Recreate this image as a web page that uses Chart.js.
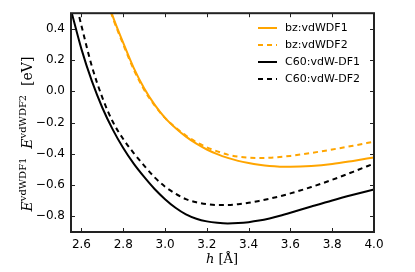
<!DOCTYPE html>
<html><head><meta charset="utf-8">
<script src="https://cdn.jsdelivr.net/npm/chart.js@4"></script>
<style>html,body{margin:0;padding:0;background:#fff}#w{width:415px;height:272px}</style>
</head><body><div id="w"><canvas id="c" width="415" height="272"></canvas></div>
<script>
const xsBlack = [2.55,2.60,2.65,2.70,2.75,2.80,2.85,2.90,2.95,3.00,3.05,3.10,3.15,3.20,3.25,3.30,3.35,3.40,3.45,3.50,3.55,3.60,3.70,3.80,3.90,4.00];
const c60DF1 = [0.52,0.27,0.065,-0.105,-0.245,-0.363,-0.463,-0.548,-0.625,-0.69,-0.745,-0.787,-0.815,-0.832,-0.841,-0.845,-0.843,-0.837,-0.827,-0.813,-0.796,-0.777,-0.737,-0.698,-0.662,-0.628];
const c60DF2 = [0.70,0.42,0.16,-0.04,-0.195,-0.305,-0.395,-0.475,-0.55,-0.61,-0.655,-0.69,-0.71,-0.722,-0.727,-0.727,-0.722,-0.713,-0.701,-0.687,-0.671,-0.653,-0.612,-0.566,-0.515,-0.462];
const xsOrange = [2.70,2.75,2.80,2.85,2.90,2.95,3.00,3.05,3.10,3.15,3.20,3.25,3.30,3.35,3.40,3.45,3.50,3.55,3.60,3.70,3.80,3.90,4.00];
const bzDF1 = [0.68,0.48,0.31,0.15,0.02,-0.085,-0.17,-0.235,-0.29,-0.335,-0.372,-0.402,-0.426,-0.445,-0.459,-0.47,-0.478,-0.482,-0.483,-0.478,-0.465,-0.445,-0.423];
const bzDF2 = [0.67,0.47,0.30,0.14,0.01,-0.09,-0.17,-0.232,-0.283,-0.325,-0.358,-0.384,-0.405,-0.418,-0.424,-0.426,-0.425,-0.42,-0.413,-0.394,-0.372,-0.348,-0.322];
const seriesNames = ['bz:vdWDF1','bz:vdWDF2','C60:vdW-DF1','C60:vdW-DF2'];
const xTicks = [2.6,2.8,3.0,3.2,3.4,3.6,3.8,4.0];
const yTicks = [-0.8,-0.6,-0.4,-0.2,0.0,0.2,0.4];

const pts = (xs, ys) => xs.map((x,i)=>({x, y: ys[i]}));
const ORANGE = '#FFA500';
const DASH = [5,4];

const ds = [
  {label: seriesNames[0], data: pts(xsOrange,bzDF1), borderColor: ORANGE, borderDash: []},
  {label: seriesNames[1], data: pts(xsOrange,bzDF2), borderColor: ORANGE, borderDash: DASH},
  {label: seriesNames[2], data: pts(xsBlack,c60DF1), borderColor: '#000', borderDash: []},
  {label: seriesNames[3], data: pts(xsBlack,c60DF2), borderColor: '#000', borderDash: DASH},
].map(d => Object.assign(d, {borderWidth: 2, pointRadius: 0, cubicInterpolationMode: 'monotone', fill: false}));

const fmt = v => { const s = Math.abs(v).toFixed(1); return (v < -1e-9 ? '\u2212' : '') + s; };

const deco = {
  id: 'deco',
  afterDatasetsDraw(chart) {
    const {ctx, chartArea: a, scales: {x, y}} = chart;
    ctx.save();
    ctx.strokeStyle = '#222';
    ctx.lineWidth = 1;
    const tl = 4;
    ctx.beginPath();
    xTicks.forEach(v => { const px = Math.round(x.getPixelForValue(v)) + 0.5;
      ctx.moveTo(px, a.bottom); ctx.lineTo(px, a.bottom - tl);
      ctx.moveTo(px, a.top); ctx.lineTo(px, a.top + tl); });
    yTicks.forEach(v => { const py = Math.round(y.getPixelForValue(v)) + 0.5;
      ctx.moveTo(a.left, py); ctx.lineTo(a.left + tl, py);
      ctx.moveTo(a.right, py); ctx.lineTo(a.right - tl, py); });
    ctx.stroke();
    ctx.lineWidth = 2;
    ctx.strokeStyle = '#222';
    ctx.strokeRect(a.left, a.top, a.right - a.left, a.bottom - a.top);

    // legend
    ctx.font = '11px "DejaVu Sans"';
    ctx.textBaseline = 'middle';
    ctx.fillStyle = '#000';
    const ly = [28, 45, 62, 79];
    chart.data.datasets.forEach((d, i) => {
      ctx.strokeStyle = d.borderColor;
      ctx.lineWidth = 2;
      ctx.setLineDash(d.borderDash.length ? [5,4] : []);
      ctx.beginPath(); ctx.moveTo(258, ly[i]); ctx.lineTo(277, ly[i]); ctx.stroke();
      ctx.setLineDash([]);
      ctx.fillText(d.label, 285, ly[i]);
    });

    // x title
    ctx.textBaseline = 'alphabetic';
    ctx.textAlign = 'left';
    const xc = 222, xb = 263;
    ctx.font = 'italic 13px "DejaVu Serif"';
    const hW = ctx.measureText('h').width;
    ctx.font = '13px "DejaVu Serif"';
    const rest = ' [\u00C5]';
    const rW = ctx.measureText(rest).width;
    let sx = xc - (hW + rW) / 2;
    ctx.font = 'italic 13px "DejaVu Serif"'; ctx.fillText('h', sx, xb);
    ctx.font = '13px "DejaVu Serif"'; ctx.fillText(rest, sx + hW, xb);

    // y title (rotated)
    ctx.translate(32, 134);
    ctx.rotate(-Math.PI / 2);
    const parts = [
      {t: 'E', f: 'italic 14px "DejaVu Serif"', dy: 0},
      {t: 'vdWDF1', f: '10px "DejaVu Serif"', dy: -6},
      {t: '  ', f: '14px "DejaVu Serif"', dy: 0},
      {t: 'E', f: 'italic 14px "DejaVu Serif"', dy: 0},
      {t: 'vdWDF2', f: '10px "DejaVu Serif"', dy: -6},
      {t: '  [eV]', f: '14px "DejaVu Serif"', dy: 0},
    ];
    let tw = 0;
    parts.forEach(p => { ctx.font = p.f; p.w = ctx.measureText(p.t).width; tw += p.w; });
    let cx = -tw / 2;
    parts.forEach(p => { ctx.font = p.f; ctx.fillText(p.t, cx, p.dy); cx += p.w; });
    ctx.restore();
  }
};

new Chart(document.getElementById('c'), {
  type: 'line',
  data: {datasets: ds},
  options: {
    responsive: false, animation: false, devicePixelRatio: 1,
    layout: {padding: {top: 13, right: 41, left: 0, bottom: 0}},
    plugins: {legend: {display: false}, tooltip: {enabled: false}},
    scales: {
      x: {type: 'linear', min: 2.55, max: 4.0,
        afterBuildTicks: s => { s.ticks = xTicks.map(v => ({value: v})); },
        afterFit: s => { s.height = 40; },
        grid: {display: false, drawTicks: false}, border: {display: false},
        ticks: {padding: 6, color: '#000', font: {family: '"DejaVu Sans"', size: 12}, callback: v => v.toFixed(1), maxRotation: 0}},
      y: {type: 'linear', min: -0.9, max: 0.5,
        afterBuildTicks: s => { s.ticks = yTicks.map(v => ({value: v})); },
        afterFit: s => { s.width = 71; },
        grid: {display: false, drawTicks: false}, border: {display: false},
        ticks: {padding: 6, color: '#000', font: {family: '"DejaVu Sans"', size: 12}, callback: v => fmt(v)}}
    }
  },
  plugins: [deco]
});
</script></body></html>
